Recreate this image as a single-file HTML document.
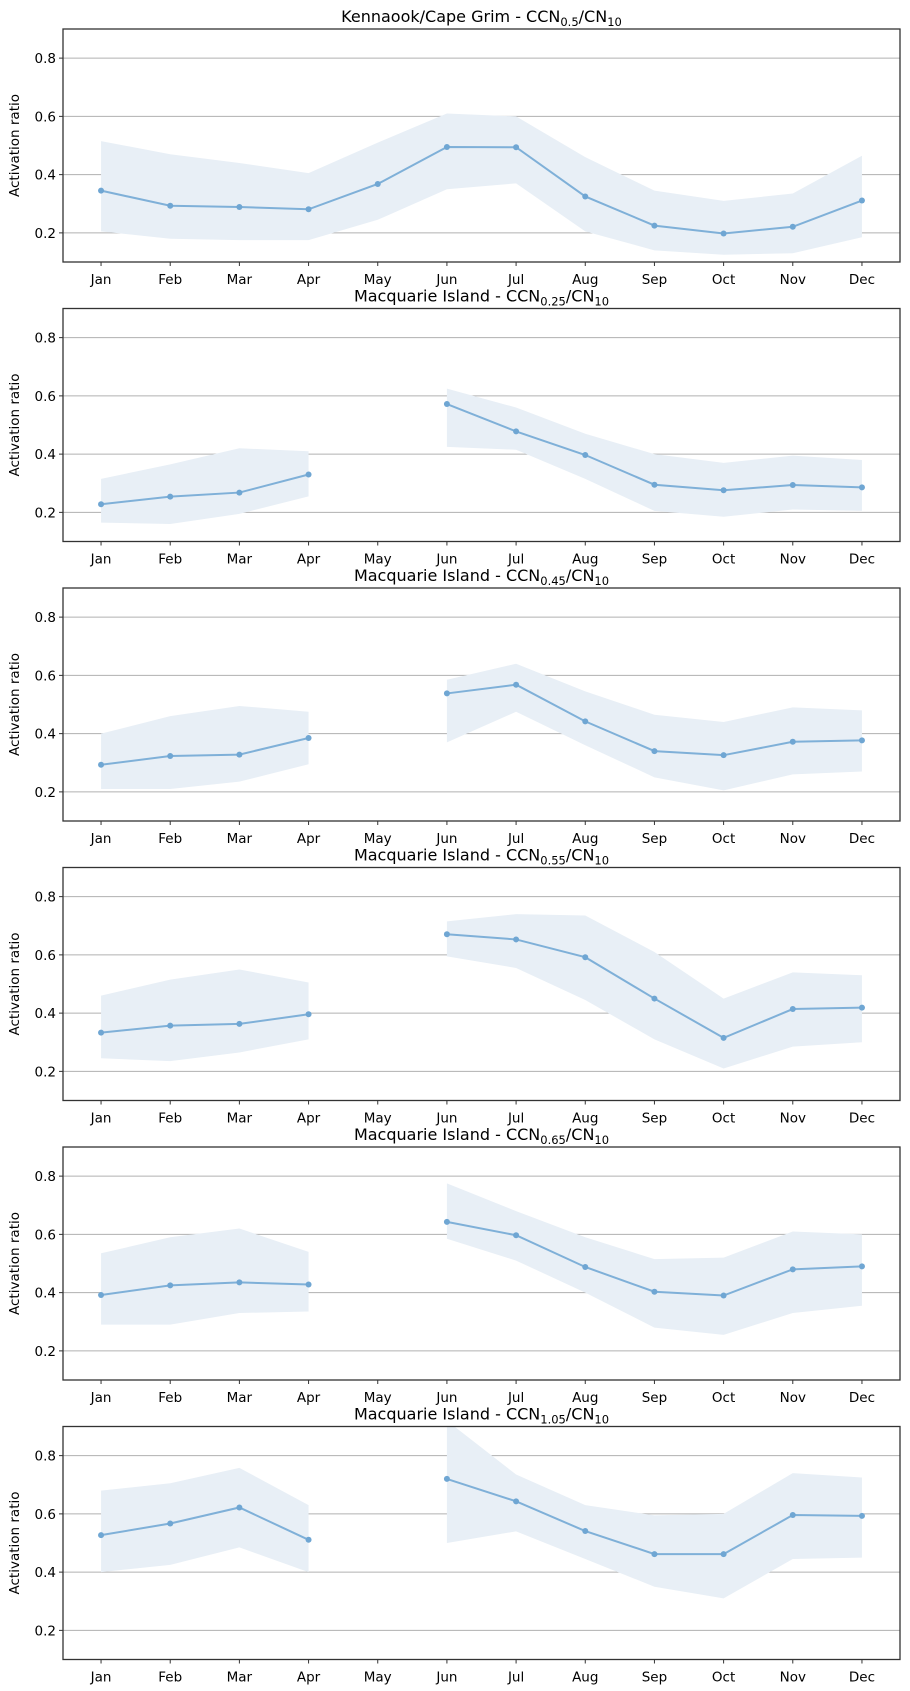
<!DOCTYPE html>
<html><head><meta charset="utf-8"><style>
body{margin:0;background:#fff}
svg{display:block;font-family:"DejaVu Sans","Liberation Sans",sans-serif}
</style></head><body>
<svg id="fig" width="910" height="1691" viewBox="0 0 910 1691" xmlns="http://www.w3.org/2000/svg"></svg>
<script>
const months=["Jan","Feb","Mar","Apr","May","Jun","Jul","Aug","Sep","Oct","Nov","Dec"];
const yTicks=[0.2,0.4,0.6,0.8];
const titles=[["Kennaook/Cape Grim - CCN","0.5"],["Macquarie Island - CCN","0.25"],["Macquarie Island - CCN","0.45"],["Macquarie Island - CCN","0.55"],["Macquarie Island - CCN","0.65"],["Macquarie Island - CCN","1.05"]];
const mean1=[0.345,0.293,0.289,0.281,0.368,0.495,0.494,0.325,0.225,0.198,0.221,0.311];
const up1=[0.515,0.47,0.44,0.405,0.51,0.61,0.60,0.46,0.345,0.31,0.335,0.465];
const lo1=[0.205,0.18,0.175,0.175,0.245,0.35,0.37,0.205,0.14,0.125,0.13,0.185];
const mean2=[0.228,0.254,0.268,0.33,null,0.572,0.478,0.397,0.295,0.276,0.294,0.286];
const up2=[0.315,0.365,0.42,0.41,null,0.625,0.56,0.47,0.40,0.37,0.395,0.38];
const lo2=[0.165,0.16,0.195,0.255,null,0.425,0.415,0.315,0.205,0.185,0.21,0.205];
const mean3=[0.293,0.323,0.328,0.385,null,0.538,0.568,0.442,0.34,0.326,0.372,0.377];
const up3=[0.40,0.46,0.495,0.475,null,0.585,0.64,0.545,0.465,0.44,0.49,0.48];
const lo3=[0.21,0.21,0.235,0.295,null,0.37,0.475,0.36,0.25,0.205,0.26,0.27];
const mean4=[0.333,0.357,0.363,0.396,null,0.671,0.653,0.592,0.45,0.315,0.414,0.419];
const up4=[0.46,0.515,0.55,0.505,null,0.715,0.74,0.735,0.61,0.45,0.54,0.53];
const lo4=[0.245,0.235,0.265,0.31,null,0.595,0.555,0.445,0.31,0.21,0.285,0.30];
const mean5=[0.392,0.425,0.435,0.428,null,0.643,0.597,0.488,0.403,0.39,0.48,0.49];
const up5=[0.535,0.59,0.62,0.54,null,0.775,0.68,0.59,0.515,0.52,0.61,0.60];
const lo5=[0.29,0.29,0.33,0.335,null,0.585,0.51,0.40,0.28,0.255,0.33,0.355];
const mean6=[0.527,0.567,0.622,0.511,null,0.72,0.643,0.541,0.462,0.462,0.596,0.593];
const up6=[0.68,0.705,0.758,0.63,null,0.92,0.735,0.63,0.595,0.60,0.74,0.725];
const lo6=[0.40,0.425,0.485,0.40,null,0.50,0.54,0.445,0.35,0.31,0.445,0.45];
const means=[mean1,mean2,mean3,mean4,mean5,mean6];
const ups=[up1,up2,up3,up4,up5,up6];
const los=[lo1,lo2,lo3,lo4,lo5,lo6];

const NS="http://www.w3.org/2000/svg";
const svg=document.getElementById('fig');
const L=63,R=900,H=233,T0=29,GAP=279.5,YMIN=0.1,YMAX=0.9;
const step=(R-L)/(11+1.1);
function xs(i){return L+step*(0.55+i);}
function mk(tag,attrs,parent){const e=document.createElementNS(NS,tag);for(const k in attrs)e.setAttribute(k,attrs[k]);(parent||svg).appendChild(e);return e;}
function segments(arr){const s=[];let cur=[];arr.forEach((v,i)=>{if(v==null){if(cur.length)s.push(cur);cur=[];}else cur.push(i);});if(cur.length)s.push(cur);return s;}

for(let p=0;p<6;p++){
  const top=T0+GAP*p, bot=top+H;
  const ys=v=>bot-(v-YMIN)/(YMAX-YMIN)*H;
  const g=mk('g',{});
  
  
  const cp=mk('clipPath',{id:'c'+p},g);
  mk('rect',{x:L,y:top,width:R-L,height:H},cp);
  yTicks.forEach(t=>{
    const gl=mk('line',{x1:L,x2:R,y1:ys(t),y2:ys(t),stroke:'#b0b0b0','stroke-width':1},g);
    
    
    mk('line',{x1:L-4,x2:L,y1:ys(t),y2:ys(t),stroke:'#333','stroke-width':1},g);
    const tl=mk('text',{x:L-7,y:ys(t)+5,'text-anchor':'end','font-size':13.5,fill:'#000'},g);
    tl.textContent=t.toFixed(1);
    
    
  });
  const cg=mk('g',{'clip-path':'url(#c'+p+')'},g);
  const m=means[p],u=ups[p],lo=los[p];
  segments(m).forEach(seg=>{
    let d='M'+seg.map(i=>xs(i)+','+ys(u[i])).join('L')+'L'+seg.slice().reverse().map(i=>xs(i)+','+ys(lo[i])).join('L')+'Z';
    const band=mk('path',{d:d,fill:'#e8eff6'},cg);
    
    
    const ln=mk('polyline',{points:seg.map(i=>xs(i)+','+ys(m[i])).join(' '),fill:'none',stroke:'#7fb0d8','stroke-width':2},cg);
    
    
    seg.forEach(i=>{
      const c=mk('circle',{cx:xs(i),cy:ys(m[i]),r:3,fill:'#6fa6d3'},cg);
      
      
    });
  });
  const fr=mk('rect',{x:L,y:top,width:R-L,height:H,fill:'none',stroke:'#333','stroke-width':1.3},g);
  
  
  months.forEach((mo,i)=>{
    mk('line',{x1:xs(i),x2:xs(i),y1:bot,y2:bot+4,stroke:'#333','stroke-width':1},g);
    const tx=mk('text',{x:xs(i),y:bot+22,'text-anchor':'middle','font-size':13.5,fill:'#000'},g);
    tx.textContent=mo;
    
    
  });
  const yl=mk('text',{x:0,y:0,'text-anchor':'middle','font-size':13.5,fill:'#000',transform:'translate(19,'+(top+H/2)+') rotate(-90)'},g);
  yl.textContent='Activation ratio';
  
  
  const tt=mk('text',{x:(L+R)/2,y:top-7,'text-anchor':'middle','font-size':16,fill:'#000'},g);
  
  
  tt.appendChild(document.createTextNode(titles[p][0]));
  const s1=mk('tspan',{'font-size':11.5,dy:4},tt);s1.textContent=titles[p][1];
  const s2=mk('tspan',{dy:-4},tt);s2.textContent='/CN';
  const s3=mk('tspan',{'font-size':11.5,dy:4},tt);s3.textContent='10';
}
</script>
</body></html>
